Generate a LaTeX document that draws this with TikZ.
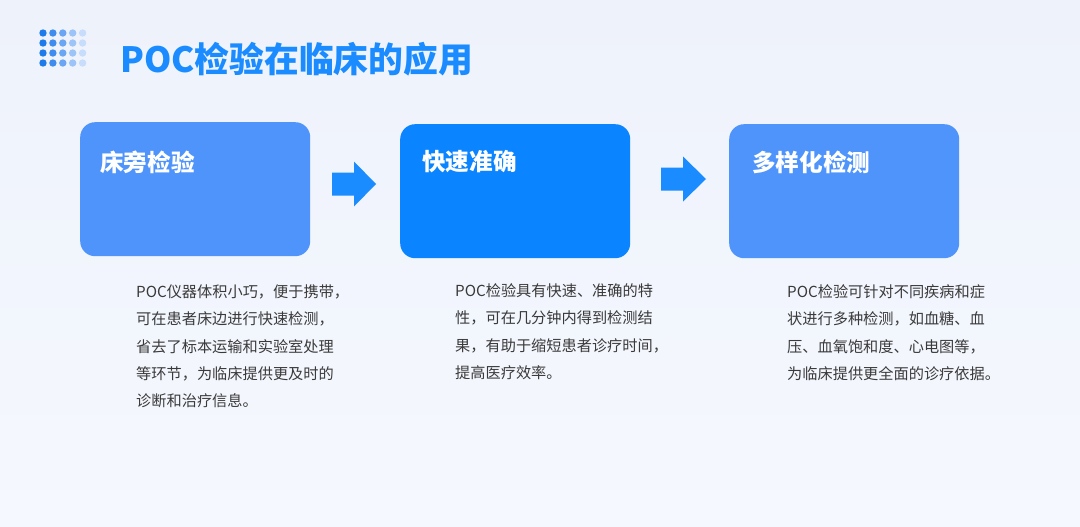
\documentclass[tikz,border=0pt]{standalone}
\usepackage{fontspec}
\newfontfamily\cjk{Noto Sans CJK SC}
\definecolor{bgtop}{HTML}{EEF2FB}
\definecolor{bgbot}{HTML}{F5F8FE}
\definecolor{boxlight}{HTML}{4F94FB}
\definecolor{boxdark}{HTML}{0A84FF}
\definecolor{arrowblue}{HTML}{1A8CFF}
\definecolor{titleblue}{HTML}{1A8CFF}
\definecolor{desc}{HTML}{3A3A3A}
\definecolor{dotA}{HTML}{1E7BEA}
\definecolor{dotB}{HTML}{3F8CEF}
\definecolor{dotC}{HTML}{6AA6F3}
\definecolor{dotD}{HTML}{9CC4F8}
\definecolor{dotE}{HTML}{C8DDFB}
\tikzset{
  card/.style={rounded corners=15pt, inner sep=0pt, minimum width=230pt, minimum height=134pt},
  cardtitle/.style={anchor=west, inner sep=0pt, text=white, font={\cjk\bfseries\fontsize{23.6}{28}\selectfont}},
  desctext/.style={anchor=north west, align=left, inner sep=0pt, text=desc, font={\cjk\fontsize{15.2}{27.3}\selectfont}},
  blockarrow/.style={fill=arrowblue},
  dot/.style={circle, inner sep=0pt, minimum size=7.4pt}
}
\begin{document}
\begin{tikzpicture}[x=1pt,y=-1pt]
\useasboundingbox (0,0) rectangle (1080,527);
\shade[top color=bgtop, bottom color=bgbot] (0,0) rectangle (1080,527);
% dot grid
\foreach \c/\col in {0/dotA,1/dotB,2/dotC,3/dotD,4/dotE}{
  \foreach \r in {0,1,2,3}{
    \node[dot, fill=\col] (dot\c\r) at ({43+9.9*\c},{33+10*\r}) {};
  }
}
% title
\node[anchor=west, inner sep=0pt, text=titleblue, font={\cjk\bfseries\fontsize{34.8}{40}\selectfont}] (title) at (120,59) {POC检验在临床的应用};
% cards
\node[card, fill=boxlight, anchor=north west] (b1) at (80,122) {};
\node[card, fill=boxdark, anchor=north west] (b2) at (400,124) {};
\node[card, fill=boxlight, anchor=north west] (b3) at (729,124) {};
\node[cardtitle] (t1) at (100,162) {床旁检验};
\node[cardtitle] (t2) at (422,162) {快速准确};
\node[cardtitle] (t3) at (752,162) {多样化检测};
% arrows
\coordinate (a1) at (332,184);
\coordinate (a2) at (661,179);
\fill[blockarrow] (a1) ++(0,-11.5) -- ++(22,0) -- ++(0,-11) -- ++(22,22.5) -- ++(-22,22.5) -- ++(0,-11) -- ++(-22,0) -- cycle;
\fill[blockarrow] (a2) ++(0,-11.5) -- ++(22,0) -- ++(0,-11) -- ++(23,22.5) -- ++(-23,22.5) -- ++(0,-11) -- ++(-22,0) -- cycle;
% descriptions
\node[desctext] (d1) at (136,284.5) {POC仪器体积小巧，便于携带，\\可在患者床边进行快速检测，\\省去了标本运输和实验室处理\\等环节，为临床提供更及时的\\诊断和治疗信息。};
\node[desctext] (d2) at (455,283.5) {POC检验具有快速、准确的特\\性，可在几分钟内得到检测结\\果，有助于缩短患者诊疗时间，\\提高医疗效率。};
\node[desctext] (d3) at (787,284.5) {POC检验可针对不同疾病和症\\状进行多种检测，如血糖、血\\压、血氧饱和度、心电图等，\\为临床提供更全面的诊疗依据。};
\end{tikzpicture}
\end{document}
